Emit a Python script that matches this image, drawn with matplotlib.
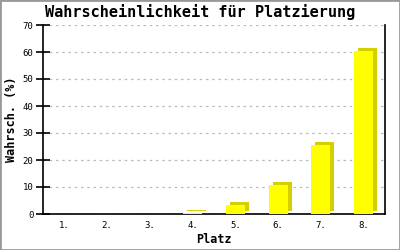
import numpy as np
import matplotlib
matplotlib.use("Agg")
import matplotlib.pyplot as plt
from matplotlib.transforms import ScaledTranslation
from matplotlib.patches import Rectangle

# Daten
plaetze = ["1.", "2.", "3.", "4.", "5.", "6.", "7.", "8."]
wahrsch = [0, 0, 0, 0.3, 3.3, 10.7, 25.6, 60.4]
y_ticks = [0, 10, 20, 30, 40, 50, 60, 70]

mono = "DejaVu Sans Mono"

fig = plt.figure(figsize=(4, 2.5), dpi=100)
fig.patch.set_facecolor("white")
# grauer Rahmen
fig.patches.append(Rectangle((0, 0), 1, 1, transform=fig.transFigure,
                             fill=False, edgecolor="#999999", linewidth=2))

ax = fig.add_axes([0.1075, 0.144, 0.855, 0.756])
x = np.arange(len(plaetze))

# Schatten: um 4px nach rechts und 3px nach oben versetzt
shift = ScaledTranslation(4 / 100, 3 / 100, fig.dpi_scale_trans)
ax.bar(x, wahrsch, width=0.45, color="#d4d000", zorder=2,
       transform=ax.transData + shift)
ax.bar(x, wahrsch, width=0.45, color="#ffff00", zorder=3)

ax.set_xlim(-0.5, len(plaetze) - 0.5)
ax.set_ylim(0, 70)
ax.set_yticks(y_ticks)
ax.set_xticks(x)
ax.set_xticklabels(plaetze, fontsize=6.5, family=mono)
ax.set_yticklabels([str(v) for v in y_ticks], fontsize=6.5, family=mono)
ax.tick_params(axis="y", direction="inout", length=10, width=1.2, pad=2)
ax.tick_params(axis="x", length=0, pad=5)

ax.yaxis.grid(True, linestyle=(0, (2, 3)), color="#bbbbbb", linewidth=0.9)
ax.set_axisbelow(True)
ax.spines["top"].set_visible(False)
for s in ["left", "bottom", "right"]:
    ax.spines[s].set_linewidth(1.2)

fig.text(0.5, 0.952, "Wahrscheinlichkeit für Platzierung", family=mono,
         fontweight="bold", fontsize=11, ha="center", va="center")
ax.set_xlabel("Platz", family=mono, fontweight="bold", fontsize=8.5, labelpad=2)
ax.set_ylabel("Wahrsch. (%)", family=mono, fontweight="bold", fontsize=8.5,
              labelpad=3)

fig.savefig("out.png", dpi=100)
